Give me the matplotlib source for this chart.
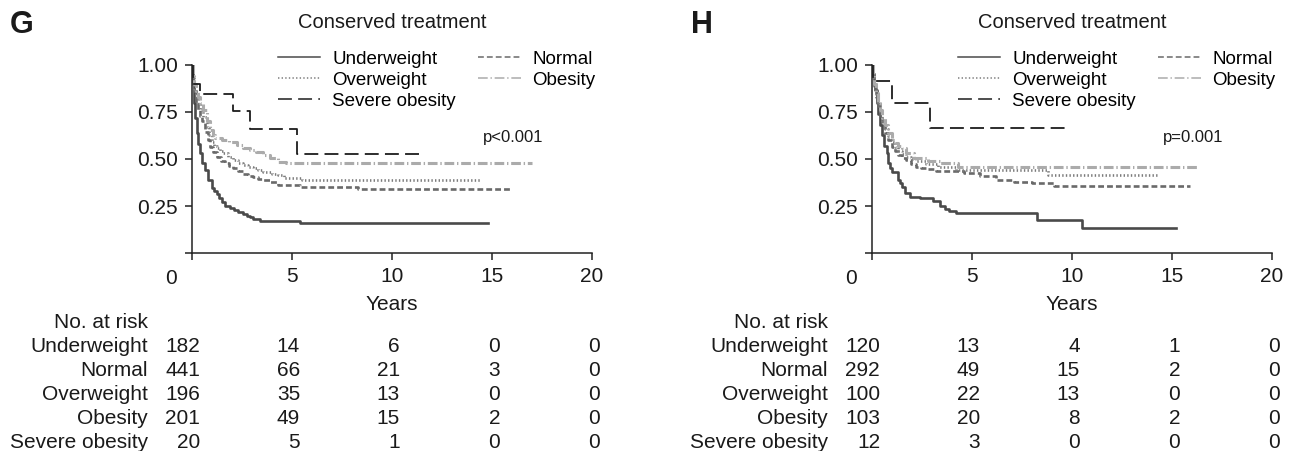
import matplotlib
matplotlib.use("Agg")
import matplotlib.pyplot as plt
import matplotlib.transforms as mtransforms
from matplotlib.lines import Line2D

plt.rcParams['font.family'] = ['Liberation Sans', 'DejaVu Sans']
plt.rcParams['lines.scale_dashes'] = False

groups = ['Underweight', 'Normal', 'Overweight', 'Obesity', 'Severe obesity']
risk_years = [0, 5, 10, 15, 20]

# ---- panel G: Kaplan-Meier estimates (time in years, survival) ----
g_under_t = [0, 0.05, 0.1, 0.17, 0.23, 0.3, 0.4, 0.52, 0.65, 0.8, 0.98, 1.1, 1.23, 1.35,
             1.48, 1.65, 1.9, 2.1, 2.32, 2.55, 2.73, 2.9, 3.07, 3.4, 5.4, 14.8]
g_under_s = [1.0, 0.9, 0.8, 0.72, 0.64, 0.58, 0.53, 0.48, 0.44, 0.39, 0.345, 0.33, 0.315, 0.29,
             0.27, 0.25, 0.238, 0.23, 0.22, 0.21, 0.195, 0.19, 0.18, 0.172, 0.158, 0.158]
g_normal_t = [0, 0.05, 0.12, 0.2, 0.3, 0.4, 0.5, 0.65, 0.78, 0.9, 1.05, 1.23, 1.45, 1.65, 1.85,
              2.07, 2.3, 2.57, 2.8, 3.07, 3.3, 3.57, 3.9, 4.3, 5.4, 8.3, 15.9]
g_normal_s = [1.0, 0.92, 0.86, 0.8, 0.76, 0.73, 0.7, 0.645, 0.6, 0.565, 0.535, 0.51, 0.49, 0.48,
              0.465, 0.45, 0.435, 0.422, 0.412, 0.405, 0.395, 0.388, 0.375, 0.36, 0.35, 0.338, 0.338]
g_over_t = [0, 0.05, 0.12, 0.2, 0.3, 0.42, 0.57, 0.73, 0.85, 0.98, 1.1, 1.23, 1.4, 1.57, 1.8,
            2.07, 2.3, 2.57, 2.8, 3.07, 3.3, 3.57, 4.0, 4.32, 4.6, 5.5, 14.4]
g_over_s = [1.0, 0.93, 0.87, 0.83, 0.79, 0.76, 0.725, 0.672, 0.63, 0.592, 0.57, 0.557, 0.545,
            0.53, 0.51, 0.495, 0.48, 0.468, 0.458, 0.45, 0.44, 0.433, 0.42, 0.413, 0.397, 0.388, 0.388]
g_obese_t = [0, 0.05, 0.12, 0.2, 0.3, 0.42, 0.57, 0.73, 0.9, 1.05, 1.15, 1.48, 1.85, 2.23, 2.55,
             2.9, 3.2, 3.57, 3.9, 4.3, 4.7, 17.0]
g_obese_s = [1.0, 0.94, 0.9, 0.86, 0.83, 0.8, 0.76, 0.7, 0.654, 0.625, 0.61, 0.601, 0.59, 0.574,
             0.56, 0.548, 0.535, 0.521, 0.505, 0.486, 0.477, 0.477]
g_severe_t = [0, 0.03, 0.06, 0.38, 2.07, 2.9, 5.23, 11.4]
g_severe_s = [1.0, 0.95, 0.9, 0.846, 0.757, 0.662, 0.527, 0.527]
g_risk = [[182, 14, 6, 0, 0],
          [441, 66, 21, 3, 0],
          [196, 35, 13, 0, 0],
          [201, 49, 15, 2, 0],
          [20, 5, 1, 0, 0]]

# ---- panel H ----
h_under_t = [0, 0.05, 0.1, 0.15, 0.23, 0.32, 0.4, 0.48, 0.6, 0.73, 0.82, 0.9, 1.0, 1.32, 1.4,
             1.5, 1.65, 1.9, 2.4, 3.07, 3.4, 3.65, 3.85, 4.2, 8.23, 10.48, 15.2]
h_under_s = [1.0, 0.95, 0.9, 0.867, 0.8, 0.74, 0.68, 0.63, 0.57, 0.53, 0.48, 0.45, 0.43, 0.39,
             0.37, 0.35, 0.32, 0.3, 0.29, 0.275, 0.25, 0.235, 0.225, 0.212, 0.178, 0.134, 0.134]
h_normal_t = [0, 0.05, 0.12, 0.2, 0.3, 0.4, 0.52, 0.65, 0.8, 1.0, 1.15, 1.3, 1.5, 1.7, 1.95, 2.2,
              2.45, 2.7, 3.2, 4.6, 5.4, 6.2, 7.1, 8.0, 9.1, 15.9]
h_normal_s = [1.0, 0.95, 0.89, 0.83, 0.78, 0.73, 0.68, 0.64, 0.6, 0.565, 0.54, 0.52, 0.505, 0.495,
              0.475, 0.46, 0.452, 0.445, 0.435, 0.425, 0.408, 0.39, 0.378, 0.37, 0.357, 0.357]
h_over_t = [0, 0.05, 0.12, 0.2, 0.3, 0.4, 0.52, 0.65, 0.8, 1.0, 1.15, 1.3, 1.5, 1.7, 1.95, 2.2,
            2.7, 3.3, 4.2, 8.8, 14.3]
h_over_s = [1.0, 0.95, 0.9, 0.84, 0.79, 0.745, 0.7, 0.66, 0.62, 0.59, 0.565, 0.54, 0.525, 0.51,
            0.5, 0.49, 0.475, 0.455, 0.441, 0.413, 0.413]
h_obese_t = [0, 0.05, 0.12, 0.2, 0.3, 0.4, 0.52, 0.65, 0.8, 1.0, 1.15, 1.3, 1.48, 1.7, 2.1, 2.8,
             3.4, 4.3, 16.3]
h_obese_s = [1.0, 0.95, 0.9, 0.85, 0.8, 0.76, 0.72, 0.68, 0.64, 0.6, 0.585, 0.57, 0.557, 0.53,
             0.505, 0.49, 0.477, 0.458, 0.458]
h_severe_t = [0, 0.05, 0.98, 2.9, 9.7]
h_severe_s = [1.0, 0.917, 0.8, 0.663, 0.663]
h_risk = [[120, 13, 4, 1, 0],
          [292, 49, 15, 2, 0],
          [100, 22, 13, 0, 0],
          [103, 20, 8, 2, 0],
          [12, 3, 0, 0, 0]]

# line look for each group: colour, width, dash pattern (points)
styles = {
    'Underweight':    dict(color='#4a4a4a', lw=1.9, dashes=None),
    'Normal':         dict(color='#6a6a6a', lw=1.9, dashes=(4.2, 2.2)),
    'Overweight':     dict(color='#7c7c7c', lw=1.9, dashes=(1.0, 1.6)),
    'Obesity':        dict(color='#ababab', lw=2.2, dashes=(7, 2, 1, 2)),
    'Severe obesity': dict(color='#1c1c1c', lw=1.3, dashes=(10, 4.5)),
}

fig = plt.figure(figsize=(12.9, 4.51), dpi=100)
FW, FH = 1290, 451


def draw_panel(left_px, letter, curves, risk, pval):
    ax = fig.add_axes([left_px / FW, (FH - 253) / FH, 400 / FW, 188 / FH])
    for name, (t, s) in zip(groups, curves):
        st = styles[name]
        line, = ax.plot(t, s, drawstyle='steps-post', color=st['color'], lw=st['lw'])
        if st['dashes'] is not None:
            line.set_dashes(st['dashes'])

    ax.set_xlim(0, 20)
    ax.set_ylim(0, 1.0)
    for side in ('top', 'right'):
        ax.spines[side].set_visible(False)
    for side in ('left', 'bottom'):
        ax.spines[side].set_linewidth(1.1)
        ax.spines[side].set_color('#222222')
    ax.set_yticks([0, 0.25, 0.5, 0.75, 1.0])
    ax.set_yticklabels(['', '0.25', '0.50', '0.75', '1.00'])
    ax.set_xticks([0, 5, 10, 15, 20])
    ax.set_xticklabels(['', '5', '10', '15', '20'])
    ax.tick_params(direction='out', length=5, width=1.1, color='#222222',
                   labelsize=15, pad=5, labelcolor='#1a1a1a')
    ax.annotate('0', xy=(0, 0), xycoords='data', xytext=(-15, -11.5),
                textcoords='offset points', ha='center', va='top',
                fontsize=15, color='#1a1a1a', annotation_clip=False)

    ax.text(10, 1.228, 'Conserved treatment', ha='center', va='center',
            fontsize=14.5, color='#1a1a1a', transform=ax.get_xaxis_transform())
    ax.text(14.55, 0.617, pval, ha='left', va='center', fontsize=12, color='#1a1a1a')

    handles = []
    for name in groups:
        st = styles[name]
        h = Line2D([], [], color=st['color'], lw=1.1)
        if st['dashes'] is not None:
            h.set_dashes(st['dashes'])
        handles.append(h)
    order = [0, 2, 4, 1, 3]
    ax.legend([handles[i] for i in order], [groups[i] for i in order], ncol=2,
              loc='upper left', bbox_to_anchor=(0.215, 1.076), frameon=False,
              fontsize=13.5, handlelength=2.25, handletextpad=0.64,
              columnspacing=1.2, labelspacing=0.2, borderpad=0, borderaxespad=0)

    fig.text((left_px - 170) / FW, 1 - 25 / FH, letter, fontsize=22,
             fontweight='bold', ha='center', va='center', color='#1a1a1a')

    # number-at-risk table below the axis
    trans = mtransforms.blended_transform_factory(ax.transData, fig.transFigure)
    ax.text(10, 1 - 305 / FH, 'Years', ha='center', va='center', fontsize=15,
            color='#1a1a1a', transform=trans)
    row_y = [322, 346, 370, 394, 418, 442]
    ax.text(-2.2, 1 - row_y[0] / FH, 'No. at risk', ha='right', va='center',
            fontsize=15, color='#1a1a1a', transform=trans)
    for r, name in enumerate(groups):
        y = 1 - row_y[r + 1] / FH
        ax.text(-2.2, y, name, ha='right', va='center', fontsize=15,
                color='#1a1a1a', transform=trans)
        for yr, n in zip(risk_years, risk[r]):
            ax.text(yr + 0.4, y, str(n), ha='right', va='center', fontsize=15,
                    color='#1a1a1a', transform=trans)
    return ax


draw_panel(192, 'G',
           [(g_under_t, g_under_s), (g_normal_t, g_normal_s), (g_over_t, g_over_s),
            (g_obese_t, g_obese_s), (g_severe_t, g_severe_s)],
           g_risk, 'p<0.001')
draw_panel(872, 'H',
           [(h_under_t, h_under_s), (h_normal_t, h_normal_s), (h_over_t, h_over_s),
            (h_obese_t, h_obese_s), (h_severe_t, h_severe_s)],
           h_risk, 'p=0.001')

fig.savefig('out.png', dpi=100)
